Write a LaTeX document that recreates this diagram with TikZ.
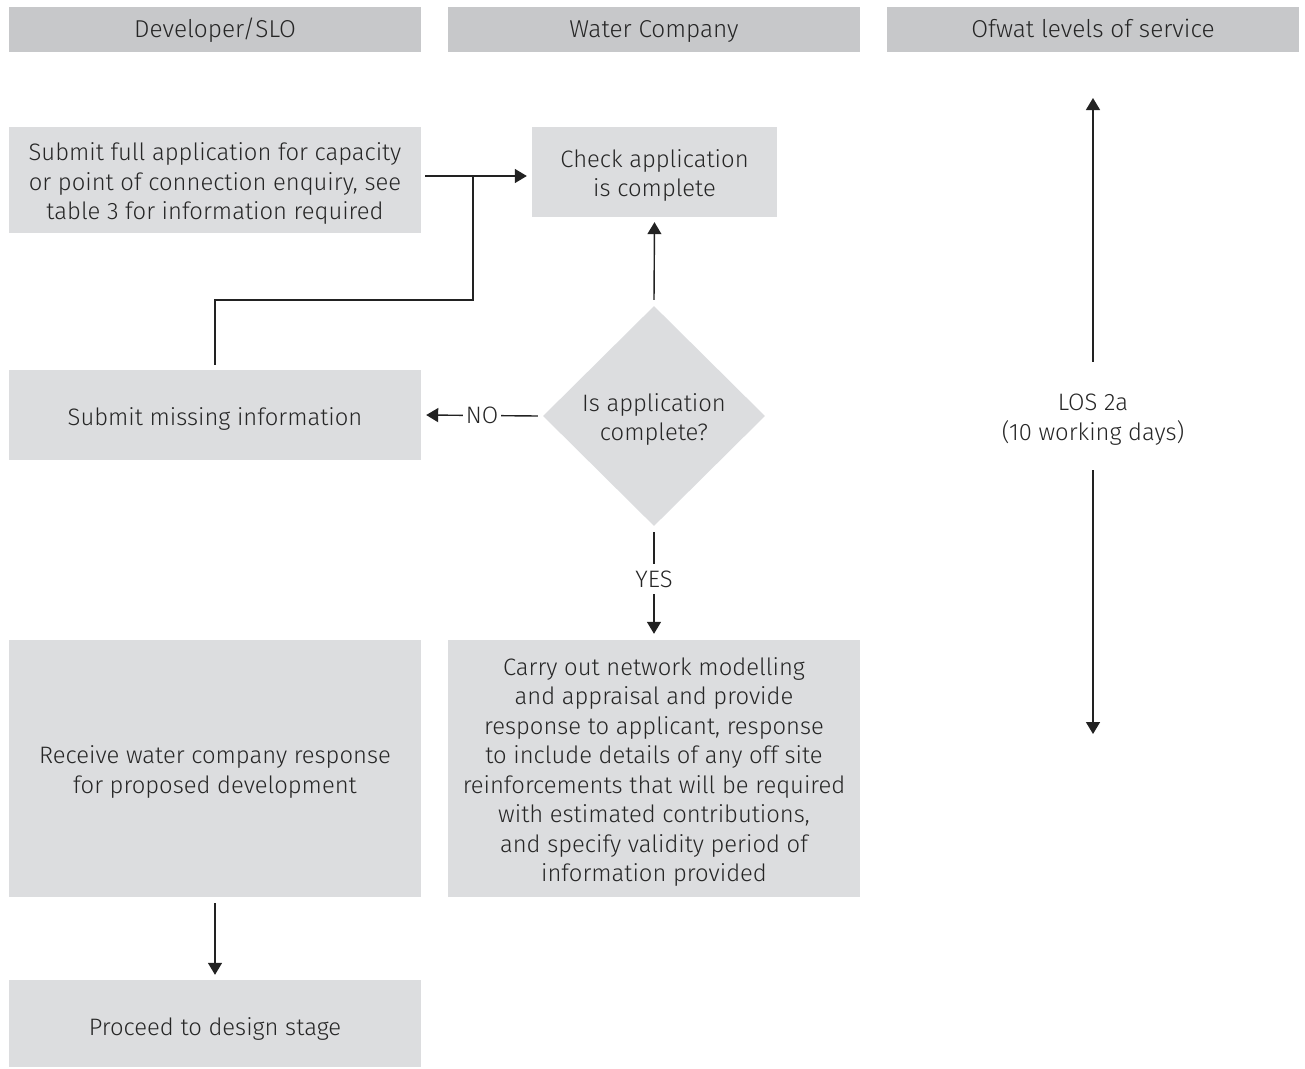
\documentclass[tikz,border=0pt]{standalone}
\usepackage{fontspec}
\setmainfont{Fira Sans}[UprightFont=* Light]
\usetikzlibrary{shapes.geometric,arrows.meta}
\definecolor{headgrey}{HTML}{C7C8CA}
\definecolor{boxgrey}{HTML}{DCDDDF}
\definecolor{inkgrey}{HTML}{262626}
\definecolor{linegrey}{HTML}{222222}
\tikzset{
  bodyfont/.style={font=\fontsize{23.8}{29.5}\selectfont},
  % text set a little below the middle of its box
  blurb/.style={align=center, text=inkgrey, inner sep=0pt, bodyfont, yshift=-3.5pt},
  lanetext/.style={text=inkgrey, inner sep=0pt, font=\fontsize{24.4}{29}\selectfont,
    text height=17pt, text depth=5pt, yshift=-1.8pt},
  lane/.style={rectangle, fill=headgrey, inner sep=0pt, minimum width=412pt, minimum height=45pt},
  stepbox/.style={rectangle, fill=boxgrey, inner sep=0pt},
  decide/.style={diamond, fill=boxgrey, inner sep=0pt, aspect=1,
    minimum width=222pt, minimum height=220pt},
  flow/.style={draw=linegrey, line width=1.4pt, -{Triangle[width=14pt,length=12pt]}},
  plain/.style={draw=linegrey, line width=1.4pt},
  tag/.style={fill=white, inner xsep=3pt, inner ysep=7pt, text height=16.4pt, text depth=0pt,
    text=inkgrey, bodyfont},
}
\begin{document}
\begin{tikzpicture}[x=1pt,y=-1pt]
\useasboundingbox (0,0) rectangle (1305,1068);

% swimlane headers
\node[lane, label={[lanetext]center:Developer/SLO}] (h1) at (215,29.5) {};
\node[lane, label={[lanetext]center:Water Company}] (h2) at (654,29.5) {};
\node[lane, label={[lanetext]center:Ofwat levels of service}] (h3) at (1093,29.5) {};

% process steps
\node[stepbox, minimum width=412pt, minimum height=106pt,
  label={[blurb]center:{Submit full application for capacity\\or point of connection enquiry, see\\table 3 for information required}}]
  (submit) at (215,180) {};
\node[stepbox, minimum width=245pt, minimum height=90pt,
  label={[blurb]center:{Check application\\is complete}}]
  (check) at (654.5,172) {};
\node[stepbox, minimum width=412pt, minimum height=90pt,
  label={[blurb]center:{Submit missing information}}]
  (missing) at (215,415) {};
\node[decide, label={[blurb]center:{Is application\\complete?}}] (isok) at (654,416) {};
\node[stepbox, minimum width=412pt, minimum height=257pt,
  label={[blurb]center:{Carry out network modelling\\and appraisal and provide\\response to applicant, response\\to include details of any off site\\reinforcements that will be required\\with estimated contributions,\\and specify validity period of\\information provided}}]
  (model) at (654,768.5) {};
\node[stepbox, minimum width=412pt, minimum height=257pt,
  label={[blurb]center:{Receive water company response\\for proposed development}}]
  (receive) at (215,768.5) {};
\node[stepbox, minimum width=412pt, minimum height=87pt,
  label={[blurb, yshift=-2pt]center:{Proceed to design stage}}]
  (design) at (215,1023.5) {};

% connectors
\coordinate (joint) at (473,176);
\coordinate (elbow) at (473,300);
\draw[flow] ([xshift=4pt]submit.east |- joint) -- ([xshift=-5pt]check.west |- joint);
\draw[plain] (joint) -- (elbow) -| ([yshift=5pt]missing.north);
\draw[flow] ([yshift=6pt]isok.north) -- ([yshift=-5pt]check.south);
\draw[flow] ([xshift=-5pt]isok.west) -- node[tag] {NO} ([xshift=5pt]missing.east);
\draw[flow] ([yshift=-6pt]isok.south) -- node[tag, pos=0.46] {YES} ([yshift=6pt]model.north);
\draw[flow] ([yshift=-6pt]receive.south) -- ([yshift=5pt]design.north);

% service level span
\node[blurb, minimum height=108pt] (los) at (1093,416) {LOS 2a\\(10 working days)};
\coordinate (spantop) at (1093,98);
\coordinate (spanbot) at (1093,734);
\draw[flow] ([yshift=3.5pt]los.north) -- (spantop);
\draw[flow] ([yshift=3.5pt]los.south) -- (spanbot);
\end{tikzpicture}
\end{document}
